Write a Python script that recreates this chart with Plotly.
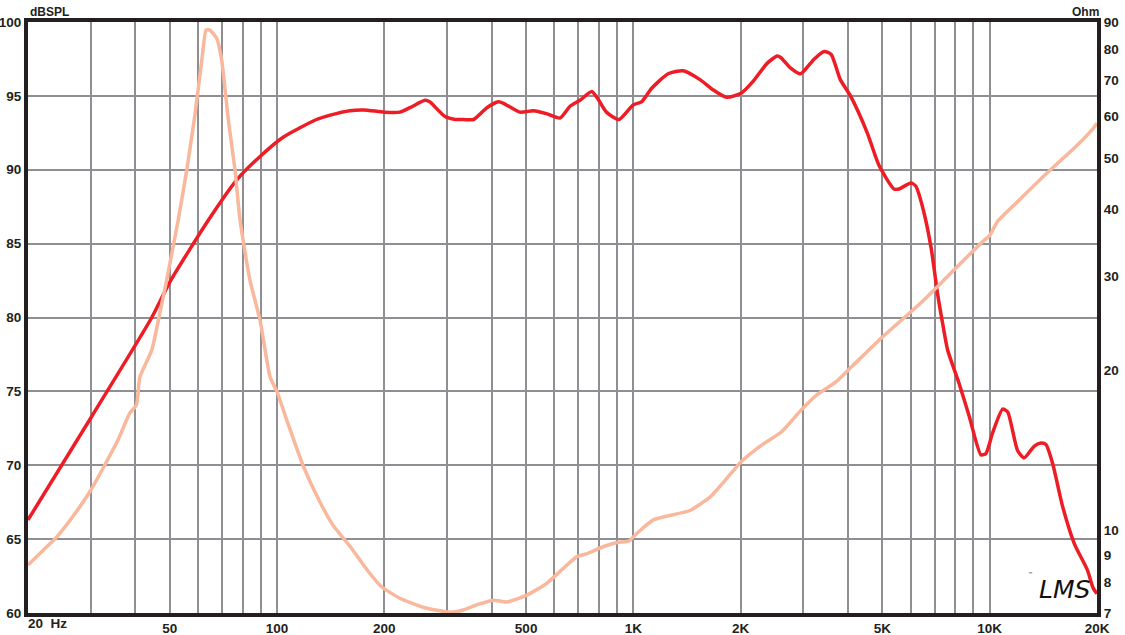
import numpy as np
import plotly.graph_objects as go

# SPL response (Hz, dB)
spl_freq = [20, 30, 44.5, 50, 64.2, 77, 89.6, 104, 129, 141, 160, 175, 200, 221, 236, 260, 268,
            296, 316, 333, 356, 388, 418, 432, 480, 524, 570, 622, 664, 708, 764, 790, 840, 911,
            1000, 1054, 1124, 1252, 1380, 1538, 1676, 1828, 2010, 2170, 2372, 2532, 2590, 2758,
            2946, 3218, 3434, 3590, 3808, 4066, 4532, 4888, 5388, 5567, 6006, 6200, 6476, 6838,
            7140, 7376, 7618, 8212, 8762, 9452, 9760, 10190, 10870, 11230, 11970, 12500, 13340,
            13930, 14380, 15020, 16020, 17270, 18800, 19500, 20000]
spl_db = [66.3, 73.2, 80.0, 82.4, 86.6, 89.3, 90.9, 92.2, 93.4, 93.7, 94.0, 94.05, 93.9, 93.9, 94.2,
          94.7, 94.6, 93.6, 93.4, 93.4, 93.4, 94.2, 94.6, 94.5, 93.9, 94.0, 93.8, 93.5, 94.3, 94.7,
          95.3, 94.9, 93.9, 93.4, 94.4, 94.6, 95.5, 96.5, 96.7, 96.1, 95.4, 94.9, 95.2, 96.0, 97.2,
          97.7, 97.6, 96.9, 96.5, 97.5, 98.0, 97.8, 96.1, 95.0, 92.5, 90.3, 88.7, 88.7, 89.1, 88.9,
          87.5, 84.8, 81.6, 79.6, 77.8, 75.5, 73.3, 70.7, 70.8, 72.2, 73.8, 73.6, 71.0, 70.5, 71.3,
          71.5, 71.4, 70.1, 67.2, 64.7, 62.9, 61.7, 61.3]

# Impedance (Hz, Ohm)
imp_freq = [20, 22.1, 24.1, 26.5, 30, 32.5, 35.8, 38.6, 40.3, 41.2, 44.5, 46.9, 49, 52.8, 55.8, 58.9,
            61.5, 63.2, 64.6, 67.7, 69.9, 73, 76.2, 78.7, 83.9, 89.6, 95.6, 100, 106.5, 118.5, 132,
            144, 160, 179, 196, 221, 258, 306, 333, 370, 405, 441, 502, 570, 636, 694, 745, 822, 899,
            973, 1000, 1044, 1138, 1250, 1440, 1640, 1810, 2000, 2270, 2600, 2950, 3250, 3700,
            4100, 4938, 6392, 7140, 8116, 9674, 10000, 10515, 11970, 14450, 17270, 19500, 20000]
imp_ohm = [8.61, 9.19, 9.73, 10.54, 11.9, 13.1, 14.8, 16.6, 17.2, 19.4, 21.8, 25.6, 29.5, 38.3, 47.5,
           60.7, 76.4, 86.9, 87.0, 83.9, 76.4, 58.9, 47.5, 38.3, 29.5, 24.8, 19.4, 18.2, 16.1, 13.2,
           11.3, 10.2, 9.35, 8.43, 7.85, 7.46, 7.17, 7.02, 7.09, 7.28, 7.40, 7.34, 7.56, 7.95, 8.49,
           8.93, 9.06, 9.32, 9.49, 9.56, 9.73, 10.0, 10.47, 10.65, 10.9, 11.55, 12.42, 13.43, 14.4,
           15.3, 16.8, 17.9, 19.0, 20.3, 22.9, 26.7, 28.7, 31.3, 35.1, 35.8, 38.0, 41.4, 46.8, 52.2,
           56.8, 58.1]

# Axis ticks
x_grid = [20, 30, 40, 50, 60, 70, 80, 90, 100, 200, 300, 400, 500, 600, 700, 800, 900,
          1000, 2000, 3000, 4000, 5000, 6000, 7000, 8000, 9000, 10000, 20000]
x_labels = {50: "50", 100: "100", 200: "200", 500: "500", 1000: "1K", 2000: "2K",
            5000: "5K", 10000: "10K", 20000: "20K"}
db_ticks = [60, 65, 70, 75, 80, 85, 90, 95, 100]
ohm_ticks = [7, 8, 9, 10, 20, 30, 40, 50, 60, 70, 80, 90]

RED = "#ee1c25"
SALMON = "#f9b79c"
GRID = "#8e8e93"
FONT = "Liberation Sans"

fig = go.Figure()
fig.add_trace(go.Scatter(x=imp_freq, y=imp_ohm, yaxis="y2", mode="lines",
                         line=dict(color=SALMON, width=3.5, shape="spline", smoothing=0.5),
                         hoverinfo="skip", showlegend=False))
fig.add_trace(go.Scatter(x=spl_freq, y=spl_db, mode="lines",
                         line=dict(color=RED, width=3.5, shape="spline", smoothing=0.6),
                         hoverinfo="skip", showlegend=False))

tickfont = dict(family=FONT, size=13.5, color="#231f20", weight="bold")

fig.update_layout(
    width=1125, height=635,
    margin=dict(l=28, r=28, t=22, b=22),
    paper_bgcolor="white", plot_bgcolor="white",
    xaxis=dict(type="log", range=[np.log10(20), np.log10(20000)],
               tickvals=x_grid, ticktext=[x_labels.get(v, "") for v in x_grid],
               showgrid=True, gridcolor=GRID, gridwidth=2,
               showline=True, linecolor="#231f20", linewidth=4, mirror=True,
               ticks="", tickfont=tickfont, automargin=False, zeroline=False),
    yaxis=dict(range=[60, 100], tickvals=db_ticks,
               showgrid=True, gridcolor=GRID, gridwidth=2,
               showline=True, linecolor="#231f20", linewidth=4, mirror=True,
               ticks="", tickfont=tickfont, automargin=False, zeroline=False),
    yaxis2=dict(type="log", range=[np.log10(7), np.log10(90)], overlaying="y", side="right",
                tickvals=ohm_ticks, ticktext=[str(v) for v in ohm_ticks],
                showgrid=False, showline=True, linecolor="#231f20", linewidth=4,
                ticks="", tickfont=tickfont, automargin=False, zeroline=False),
)

fig.add_annotation(x=np.log10(20), y=0, xref="x", yref="paper", text="20  Hz",
                   showarrow=False, xanchor="left", yanchor="top", yshift=-1, xshift=-2,
                   font=tickfont)
fig.add_annotation(x=0, y=1, xref="paper", yref="paper", text="dBSPL", showarrow=False,
                   xanchor="left", yanchor="bottom", yshift=1,
                   font=dict(family=FONT, size=12, color="#231f20", weight="bold"))
fig.add_annotation(x=1, y=1, xref="paper", yref="paper", text="Ohm", showarrow=False,
                   xanchor="right", yanchor="bottom", yshift=1, xshift=4,
                   font=dict(family=FONT, size=12, color="#231f20", weight="bold"))
fig.add_annotation(x=0.944, y=0.012, xref="paper", yref="paper",
                   text="<i>LMS</i>", showarrow=False, xanchor="left", yanchor="bottom",
                   font=dict(family="DejaVu Sans", size=25, color="#111111"))
fig.add_annotation(x=0.934, y=0.058, xref="paper", yref="paper",
                   text="™", showarrow=False, xanchor="left", yanchor="bottom",
                   font=dict(family="DejaVu Sans", size=5, color="#111111"))

fig.write_html("out.html", config={"displayModeBar": False},
               post_script="document.body.style.margin='0px';document.body.style.overflow='hidden';")
